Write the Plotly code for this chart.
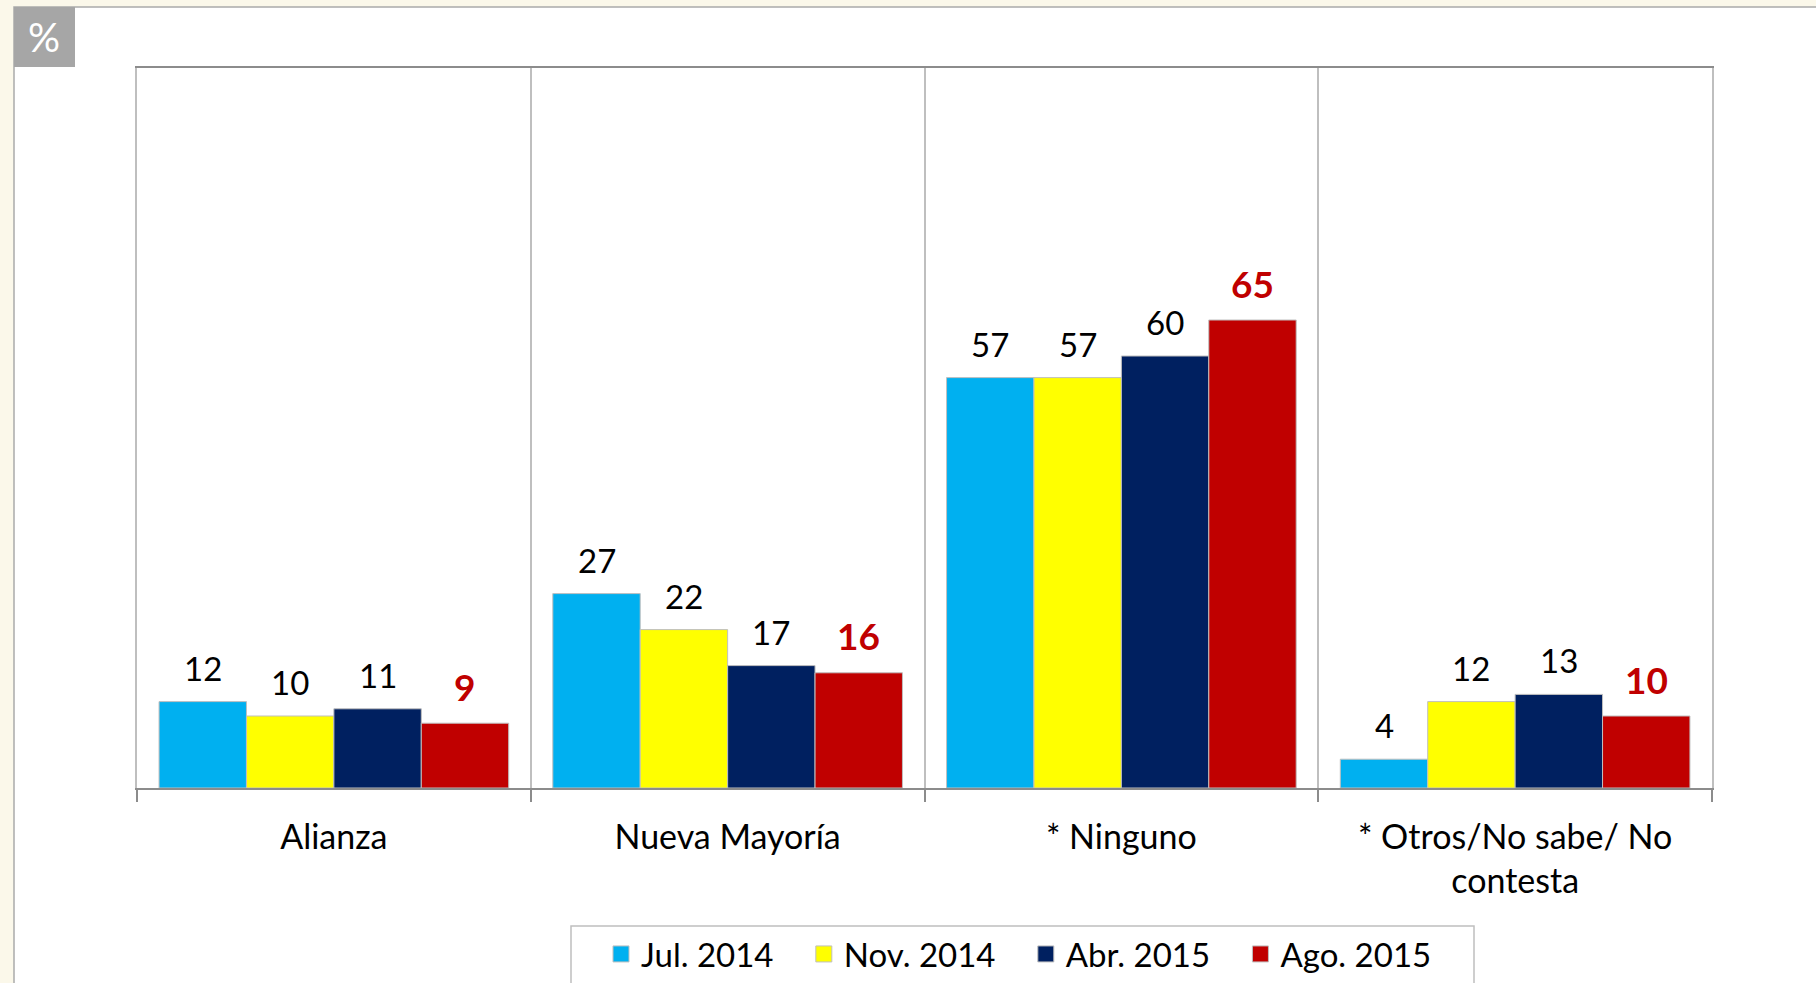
import plotly.graph_objects as go

categories = ["Alianza", "Nueva Mayoría", "* Ninguno", "* Otros/No sabe/ No<br>contesta"]
series_names = ["Jul. 2014", "Nov. 2014", "Abr. 2015", "Ago. 2015"]
jul_2014 = [12, 27, 57, 4]
nov_2014 = [10, 22, 57, 12]
abr_2015 = [11, 17, 60, 13]
ago_2015 = [9, 16, 65, 10]
series_values = [jul_2014, nov_2014, abr_2015, ago_2015]
colors = ["#00B0F0", "#FFFF00", "#002060", "#C00000"]

W, H = 1816, 983
ML, MR, MT, MB = 137, 104, 68, 195
plot_w = W - ML - MR
plot_h = H - MT - MB
bargap = 0.112
FONT = "Lato, Carlito, Calibri, sans-serif"
PAD = "\u00a0" * 3

fig = go.Figure()
for name, vals, col in zip(series_names, series_values, colors):
    fig.add_trace(go.Bar(
        x=categories, y=vals, name=name, legendgroup=name, showlegend=False,
        marker=dict(color=col, line=dict(color="#BFBFBF", width=1)),
    ))
# legend entries (larger square swatches)
for name, col in zip(series_names, colors):
    fig.add_trace(go.Scatter(
        x=[None], y=[None], mode="markers", name=name + PAD, legendgroup=name,
        marker=dict(symbol="square", size=16, color=col, line=dict(color="#BFBFBF", width=1)),
        hoverinfo="skip",
    ))

cat_px = plot_w / len(categories)
bar_px = cat_px * (1 - bargap) / len(series_names)
annotations = []
for i, vals in enumerate(series_values):
    last = i == len(series_values) - 1
    for c, v in zip(categories, vals):
        annotations.append(dict(
            x=c, y=v, xref="x", yref="y", text=f"<b>{v}</b>" if last else str(v),
            showarrow=False, xanchor="center", yanchor="middle",
            xshift=(i - (len(series_names) - 1) / 2) * bar_px, yshift=37 if last else 34,
            font=dict(family=FONT, size=37 if last else 33,
                      color="#C00000" if last else "#000000"),
        ))

def px_x(p):
    return (p - ML) / plot_w

def px_y(p):
    return (H - MB - p) / plot_h

# "%" badge
annotations.append(dict(
    x=px_x(44), y=px_y(37), xref="paper", yref="paper", text="%", showarrow=False,
    xanchor="center", yanchor="middle",
    font=dict(family=FONT, size=40, color="#FFFFFF"),
))

shapes = [
    # white panel with grey border
    dict(type="rect", xref="paper", yref="paper", layer="below",
         x0=px_x(14), x1=px_x(1830), y0=px_y(1000), y1=px_y(7),
         fillcolor="#FFFFFF", line=dict(color="#AAAAAA", width=1.5)),
    # grey badge
    dict(type="rect", xref="paper", yref="paper", layer="above",
         x0=px_x(14), x1=px_x(75), y0=px_y(67), y1=px_y(7),
         fillcolor="#A6A6A6", line=dict(width=0)),
    # legend frame
    dict(type="rect", xref="paper", yref="paper", layer="below",
         x0=px_x(571), x1=px_x(1474), y0=px_y(1000), y1=px_y(926),
         fillcolor="#FFFFFF", line=dict(color="#BFBFBF", width=1.5)),
]

fig.update_layout(
    width=W, height=H,
    margin=dict(l=ML, r=MR, t=MT, b=MB, pad=0, autoexpand=False),
    paper_bgcolor="#FBF8EA",
    plot_bgcolor="#FFFFFF",
    barmode="group", bargap=bargap, bargroupgap=0,
    font=dict(family=FONT, size=34, color="#000000"),
    showlegend=True,
    legend=dict(
        orientation="h", x=px_x(601), y=px_y(926), xanchor="left", yanchor="top",
        bgcolor="rgba(0,0,0,0)", borderwidth=0,
        font=dict(family=FONT, size=33, color="#000000"),
        itemwidth=30, traceorder="normal", itemsizing="trace",
    ),
    annotations=annotations,
    shapes=shapes,
)
fig.update_xaxes(
    type="category", tickson="boundaries", ticks="outside", ticklen=12,
    tickcolor="#8C8C8C", tickwidth=1.5, ticklabelstandoff=18,
    showline=True, linecolor="#8C8C8C", linewidth=2, mirror=True,
    showgrid=True, gridcolor="#BFBFBF", gridwidth=1.5,
    tickfont=dict(family=FONT, size=34, color="#000000"),
)
fig.update_yaxes(
    range=[0, 100], showticklabels=False, ticks="", showgrid=False, zeroline=False,
    showline=True, linecolor="#BFBFBF", linewidth=1.5, mirror=True,
)

fig.write_html(
    "out.html",
    config={"displayModeBar": False},
    post_script="document.body.style.margin='0';document.body.style.overflow='hidden';",
)
